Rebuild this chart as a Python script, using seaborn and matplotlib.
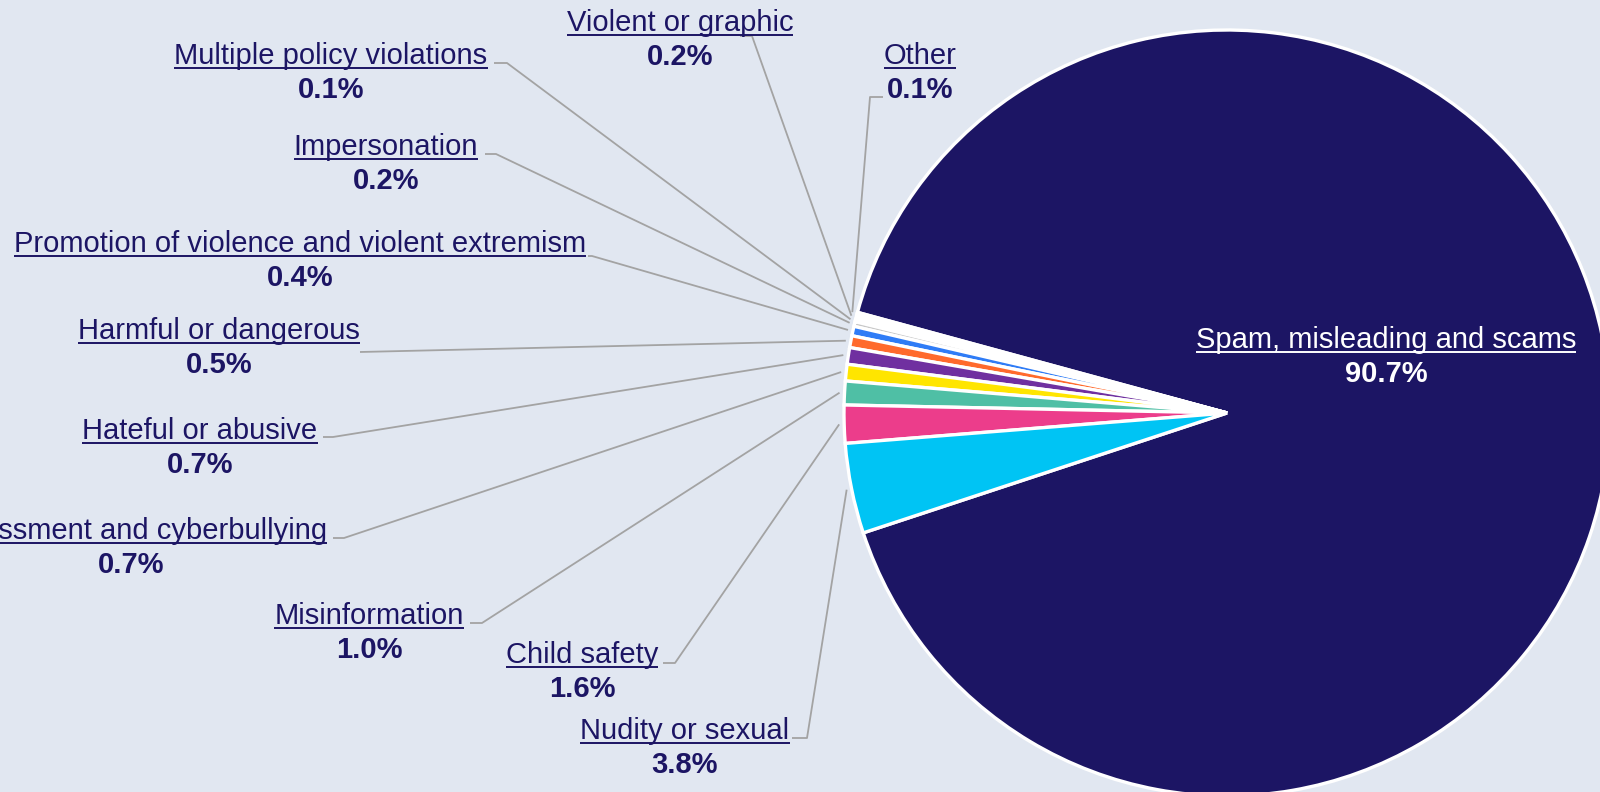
import numpy as np
import matplotlib
matplotlib.use("Agg")
import matplotlib.pyplot as plt
import seaborn as sns

# data
categories = ['Spam, misleading and scams', 'Other', 'Violent or graphic',
              'Multiple policy violations', 'Impersonation',
              'Promotion of violence and violent extremism', 'Harmful or dangerous',
              'Hateful or abusive', 'Harassment and cyberbullying', 'Misinformation',
              'Child safety', 'Nudity or sexual']
shares = [90.7, 0.1, 0.2, 0.1, 0.2, 0.4, 0.5, 0.7, 0.7, 1.0, 1.6, 3.8]
slice_colors = ['#1c1564', '#ffffff', '#ffffff', '#b4b4b4', '#c8c8c8', '#2f7cf6',
                '#ff6a2c', '#7030a0', '#ffe500', '#4fbfa5', '#ec3d8b', '#00c4f4']

# layout, in pixels from the top left: label centre x, underline y
label_pos = [(1386, 352), (920, 68), (680, 35), (331, 68), (386, 159), (300, 256),
             (219, 343), (200, 443), (131, 543), (369, 628), (582, 667), (685, 743)]
# connector start and stub end (None for the inside label)
leader = [None, ((883, 97), (870, 97)), ((740, 36), (752, 36)), ((494, 63), (507, 63)),
          ((485, 154), (496, 154)), ((588, 256), (592, 256)), ((360, 352), (360, 352)),
          ((323, 437), (333, 437)), ((333, 538), (344, 538)), ((470, 623), (482, 623)),
          ((663, 663), (675, 663)), ((792, 738), (807, 738))]

W, H = 1600, 792
BG = '#e1e7f1'
NAVY = '#1c1564'
GREY = '#a3a3a3'

sns.set_theme(style='white')
plt.rcParams['font.family'] = ['Liberation Sans', 'DejaVu Sans']


def Y(y):
    return H - y


fig = plt.figure(figsize=(16, 7.92), dpi=100, facecolor=BG)
ax = fig.add_axes([0, 0, 1, 1])
ax.set_facecolor(BG)

cx, cy, r = 1227, Y(413), 383
others = sum(shares[1:]) / sum(shares) * 360
wedges, _ = ax.pie(shares, colors=sns.color_palette(slice_colors),
                   startangle=181.5 + others / 2,
                   center=(cx, cy), radius=r, counterclock=True,
                   wedgeprops=dict(edgecolor='white', linewidth=2.4))
ax.set_xlim(0, W)
ax.set_ylim(0, H)
ax.set_aspect('auto')
ax.axis('off')

fs = 21
names = []
for i, (name, val) in enumerate(zip(categories, shares)):
    x, ul = label_pos[i]
    col = 'white' if i == 0 else NAVY
    t = ax.text(x, Y(ul - 4), name, ha='center', va='baseline', fontsize=fs, color=col)
    ax.text(x, Y(ul + 30), f'{val:.1f}%', ha='center', va='baseline', fontsize=fs,
            fontweight='bold', color=col)
    names.append((t, ul, col))

    if leader[i] is not None:
        w = wedges[i]
        mid = np.deg2rad((w.theta1 + w.theta2) / 2)
        ex, ey = cx + (r + 5) * np.cos(mid), cy + (r + 5) * np.sin(mid)
        (sx, sy), (tx, ty) = leader[i]
        ax.plot([sx, tx, ex], [Y(sy), Y(ty), ey], color=GREY, lw=1.3,
                zorder=0.5, solid_capstyle='butt')

# underline the category names
fig.canvas.draw()
rend = fig.canvas.get_renderer()
for t, ul, col in names:
    bb = t.get_window_extent(rend)
    ax.plot([bb.x0, bb.x1], [Y(ul), Y(ul)], color=col, lw=1.4, solid_capstyle='butt')

fig.savefig('out.png', dpi=100, facecolor=BG)
